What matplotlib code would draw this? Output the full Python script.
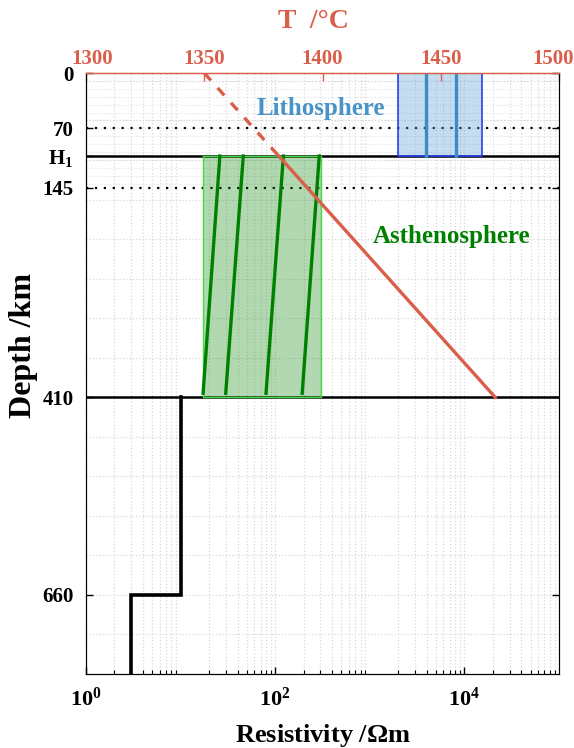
import numpy as np
import matplotlib.pyplot as plt
from matplotlib.ticker import LogLocator, NullFormatter
from matplotlib.transforms import ScaledTranslation

plt.rcParams['font.family'] = ['Liberation Serif', 'DejaVu Serif']
plt.rcParams['font.weight'] = 'bold'
plt.rcParams['mathtext.fontset'] = 'custom'
plt.rcParams['mathtext.rm'] = 'Liberation Serif:bold'
plt.rcParams['mathtext.it'] = 'Liberation Serif:bold'

RED = '#d95f4a'
GREEN = '#008000'
GRID = '#d9d9d9'

# depth axis
depth_ticks = [0, 70, 105, 145, 410, 660]
depth_labels = ['0', '70', 'H$_1$', '145', '410', '660']
z_max = 760
z_H1 = 105
z_410 = 410

# resistivity profile below the 410 km discontinuity
step_depth = [410, 660, 660, 760]
step_rho = [10, 10, 3, 3]

# asthenosphere resistivity band and model curves
asth_rho = [17.3, 307]
asth_top_rho = [26, 46, 122, 292]
asth_bot_rho = [17.3, 30, 80, 193]
asth_bot_z = 405

# lithosphere band
lith_rho = [2000, 15500]
lith_lines_rho = [3900, 8200]

# temperature profile
temp_ticks = [1300, 1350, 1400, 1450, 1500]
temp_depth = [0, 105, 410]
temp_val = [1350, 1381.5, 1473]

fig = plt.figure(figsize=(5.74, 7.48), dpi=100)
ax = fig.add_axes([0.1498, 0.0989, 0.8241, 0.8035])

ax.set_xscale('log')
ax.set_xlim(1, 1e5)
ax.set_ylim(z_max, 0)

# grid
ax.xaxis.set_major_locator(LogLocator(base=10, numticks=10))
ax.xaxis.set_minor_locator(LogLocator(base=10, subs=np.arange(2, 10), numticks=20))
ax.xaxis.set_minor_formatter(NullFormatter())
ax.set_xticks([1, 1e2, 1e4])
ax.set_xticklabels(['$10^0$', '$10^2$', '$10^4$'])
ax.grid(True, which='both', axis='x', color=GRID, linestyle=':', linewidth=0.9)
for z in np.arange(10, z_max + 1, 50):
    ax.axhline(z, color=GRID, linestyle=':', linewidth=0.9, zorder=0)
for z in np.arange(10, 150, 10):
    ax.axhline(z, color='#e0e0e0', linestyle=':', linewidth=0.8, zorder=0)

ax.set_yticks(depth_ticks)
ax.set_yticklabels(depth_labels)
ax.tick_params(axis='both', which='both', direction='in', top=True, right=True)
ax.tick_params(axis='y', which='major', labelsize=15, length=5, width=1, pad=9)
ax.tick_params(axis='x', which='major', labelsize=16, length=5, width=1, pad=10)
ax.tick_params(axis='x', which='minor', length=3, width=0.8)

# layer boundaries
ax.axhline(70, color='black', linestyle=(0, (1, 3)), linewidth=1.6, zorder=2)
ax.axhline(145, color='black', linestyle=(0, (1, 3)), linewidth=1.6, zorder=2)
ax.axhline(z_H1, color='black', linewidth=1.8, zorder=2)
ax.axhline(z_410, color='black', linewidth=1.8, zorder=2)

# lithosphere
ax.fill_between(lith_rho, 0, z_H1, facecolor='#5a9fd4', alpha=0.35,
                edgecolor='none', zorder=3)
ax.plot([lith_rho[0], lith_rho[0], lith_rho[1], lith_rho[1], lith_rho[0]],
        [0, z_H1, z_H1, 0, 0], color='#2a3ff0', linewidth=1.2, zorder=4)
for r in lith_lines_rho:
    ax.plot([r, r], [0, z_H1], color='#3d8cc4', linewidth=2.4, zorder=4)

# asthenosphere
ax.fill_between(asth_rho, z_H1, z_410, facecolor=GREEN, alpha=0.3,
                edgecolor='none', zorder=3)
ax.plot([asth_rho[0], asth_rho[0], asth_rho[1], asth_rho[1], asth_rho[0]],
        [z_H1, z_410, z_410, z_H1, z_H1], color='#44dd44', linewidth=1.0, zorder=4)
for r0, r1 in zip(asth_top_rho, asth_bot_rho):
    ax.plot([r0, r1], [z_H1, asth_bot_z], color=GREEN, linewidth=2.4, zorder=4)

# transition zone / lower mantle resistivity
ax.plot(step_rho, step_depth, color='black', linewidth=2.6, zorder=5,
        solid_joinstyle='miter')

ax.text(63, 45, 'Lithosphere', color='#4a93c6', fontsize=18,
        fontweight='bold', ha='left', va='center', zorder=6)
ax.text(1070, 207, 'Asthenosphere', color=GREEN, fontsize=18,
        fontweight='bold', ha='left', va='center', zorder=6)

ax.set_xlabel('Resistivity /$\\Omega$m', fontsize=19, fontweight='bold', labelpad=8)
ax.set_ylabel('Depth /km', fontsize=23, fontweight='bold')
ax.yaxis.set_label_coords(-0.101, 0.547)
ax.spines['top'].set_color(RED)

# temperature axis on top
ax2 = ax.twiny()
ax2.set_xlim(1300, 1500)
ax2.set_xticks(temp_ticks)
ax2.tick_params(axis='x', colors=RED, direction='in', labelsize=15,
                length=6, width=1, pad=3)
ax2.spines['top'].set_color(RED)
ax2.spines['top'].set_linewidth(1.0)
ax2.set_xlabel('T  /°C', color=RED, fontsize=20, fontweight='bold')
ax2.xaxis.set_label_coords(0.48, 1.075)

ax2.plot(temp_val[:2], temp_depth[:2], color=RED, linewidth=2.4,
         linestyle=(0, (3, 3)), zorder=6)
ax2.plot(temp_val[1:], temp_depth[1:], color=RED, linewidth=2.4, zorder=6)
ax2.set_ylim(z_max, 0)

for a in (ax, ax2):
    for lab in a.get_yticklabels() + a.get_xticklabels():
        lab.set_fontweight('bold')

# keep the end labels of the temperature axis inside the figure
tlabs = ax2.get_xticklabels()
tlabs[0].set_transform(tlabs[0].get_transform() +
                       ScaledTranslation(0.06, 0, fig.dpi_scale_trans))
tlabs[-1].set_transform(tlabs[-1].get_transform() +
                        ScaledTranslation(-0.06, 0, fig.dpi_scale_trans))

fig.savefig('out.png', dpi=100)
